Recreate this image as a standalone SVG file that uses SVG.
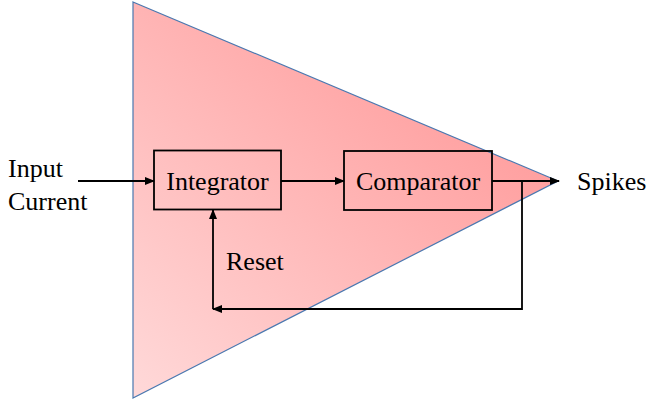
<svg xmlns="http://www.w3.org/2000/svg" width="648" height="402" viewBox="0 0 648 402">
<defs>
<linearGradient id="g" x1="0" y1="1" x2="1" y2="0" gradientUnits="objectBoundingBox">
<stop offset="0" stop-color="#ffd9d9"/>
<stop offset="1" stop-color="#ff8f8f"/>
</linearGradient>
<marker id="ah" markerWidth="10" markerHeight="8" refX="9" refY="4" orient="auto" markerUnits="userSpaceOnUse">
<path d="M0,0 L10,4 L0,8 Z" fill="#000"/>
</marker>
<style>
.box{fill:none;stroke:#000;stroke-width:1.8}
.c{fill:none;stroke:#000;stroke-width:1.8}
</style>
</defs>
<polygon id="triangle" points="133,2 558,181 133,398" fill="url(#g)" stroke="#4a78b0" stroke-width="1.2"/>
<g font-family="Liberation Serif, Times New Roman, DejaVu Serif, serif" font-size="26" fill="#000">
<g id="input"><text x="8" y="177">Input</text><text x="8" y="210">Current</text></g>
<g id="integrator"><rect class="box" x="154" y="150.5" width="127" height="59"/><text x="217.5" y="189.5" text-anchor="middle">Integrator</text></g>
<g id="comparator"><rect class="box" x="344" y="151" width="148" height="59"/><text x="418" y="190" text-anchor="middle">Comparator</text></g>
<g id="spikes"><text x="577" y="190">Spikes</text></g>
<g id="reset"><text x="226" y="270">Reset</text></g>
</g>
<g id="connectors">
<line class="c" x1="78" y1="181" x2="154" y2="181" marker-end="url(#ah)"/>
<line class="c" x1="281" y1="181" x2="344" y2="181" marker-end="url(#ah)"/>
<line class="c" x1="492" y1="181" x2="559" y2="181" marker-end="url(#ah)"/>
<polyline class="c" points="522,181 522,309 213,309" marker-end="url(#ah)"/>
<line class="c" x1="213" y1="309" x2="213" y2="210" marker-end="url(#ah)"/>
</g>
</svg>
